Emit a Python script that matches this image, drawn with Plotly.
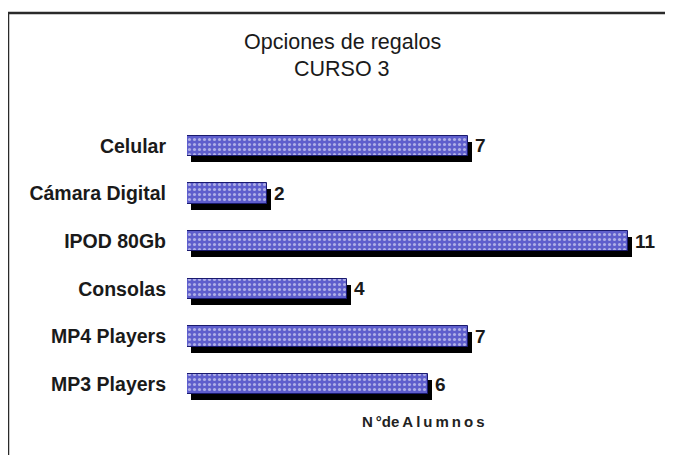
import plotly.graph_objects as go

categories = ["Celular", "Cámara Digital", "IPOD 80Gb", "Consolas", "MP4 Players", "MP3 Players"]
alumnos = [7, 2, 11, 4, 7, 6]
title_lines = ["Opciones de regalos", "CURSO 3"]
x_title = "N\u2009°de\u2009A\u2009l\u2009u\u2009m\u2009n\u2009o\u2009s"

OFF = 8  # page body margin
FIG_W, FIG_H = 673 - OFF, 455 - OFF
L, R, T = 187 - OFF, 1, 122 - OFF
B = FIG_H - (414 - OFF)
W = FIG_W - L - R
H = FIG_H - T - B
DX, DY = 4, 6  # shadow offset px
XMAX = 12 * (W - DX) / 481

def px_x(x):
    return (x - OFF - L) / W

def px_y(y):
    return (FIG_H - B - (y - OFF)) / H

fig = go.Figure()

# shadow bars (below)
fig.add_trace(go.Bar(
    y=categories, x=alumnos, orientation="h", xaxis="x", yaxis="y",
    marker=dict(color="#000000", line=dict(width=0)), width=0.42,
    hoverinfo="skip", showlegend=False,
))
# main bars
fig.add_trace(go.Bar(
    y=categories, x=alumnos, orientation="h", xaxis="x2", yaxis="y2",
    marker=dict(color="#5e5ecc", line=dict(color="#1a1a6e", width=1),
                pattern=dict(shape=".", fgcolor="#ffffff", bgcolor="#5e5ecc",
                             size=5, solidity=0.3, fillmode="overlay")),
    width=0.42, showlegend=False,
))

ann = []
for c, v in zip(categories, alumnos):
    ann.append(dict(x=v, y=c, xref="x2", yref="y2", text=str(v), showarrow=False,
                    xanchor="left", xshift=5,
                    font=dict(family="Liberation Sans, Arial", size=19, color="#1a1a1a", weight="bold")))

# title lines
for line, yc in zip(title_lines, [42, 69]):
    ann.append(dict(x=px_x(342), xref="paper", y=px_y(yc), yref="paper", text=line,
                    showarrow=False, xanchor="center", yanchor="middle",
                    font=dict(family="Liberation Sans, Arial", size=21.5, color="#1a1a1a")))

# axis title
ann.append(dict(x=px_x(423), xref="paper", y=px_y(421), yref="paper",
                text=x_title, showarrow=False, xanchor="center", yanchor="middle",
                font=dict(family="Liberation Sans, Arial", size=15, color="#222222", weight="bold")))

cat_range = [len(categories) - 0.5, -0.5]
fig.update_layout(
    width=FIG_W, height=FIG_H,
    margin=dict(l=L, r=R, t=T, b=B, pad=0),
    paper_bgcolor="white", plot_bgcolor="rgba(0,0,0,0)",
    xaxis=dict(domain=[DX / W, 1], range=[0, XMAX], visible=False, fixedrange=True),
    yaxis=dict(domain=[0, 1 - DY / H], range=cat_range, categoryorder="array",
               categoryarray=categories, visible=False, anchor="x"),
    xaxis2=dict(domain=[0, 1 - DX / W], range=[0, XMAX], visible=False, anchor="y2"),
    yaxis2=dict(domain=[DY / H, 1], range=cat_range, categoryorder="array",
                categoryarray=categories, anchor="x2", showline=False, showgrid=False,
                zeroline=False, ticks="", ticklabelstandoff=20,
                tickfont=dict(family="Liberation Sans, Arial", size=19.5, color="#1a1a1a", weight="bold")),
    annotations=ann,
    shapes=[dict(type="rect", xref="paper", yref="paper",
                 x0=px_x(8), x1=1.2, y0=px_y(480), y1=px_y(13),
                 line=dict(color="#2a2a2a", width=2.5), fillcolor="rgba(0,0,0,0)", layer="below")],
    bargap=0,
)

fig.write_html("out.html")
